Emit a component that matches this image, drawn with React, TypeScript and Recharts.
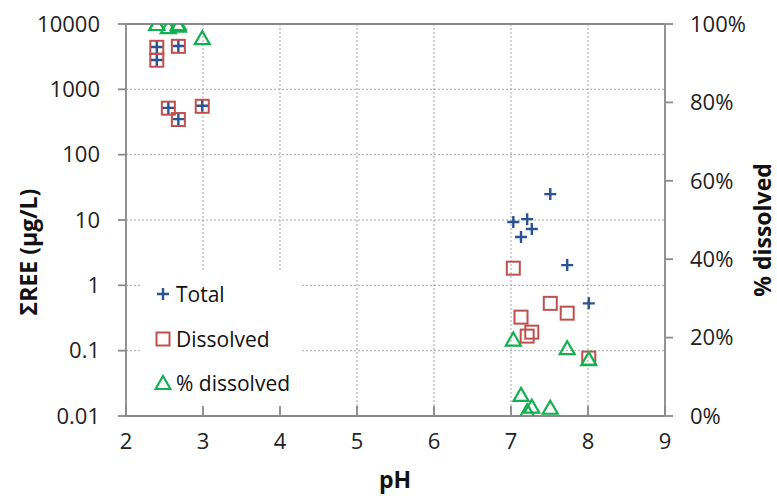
import React from 'react';
import { ScatterChart, Scatter, XAxis, YAxis, CartesianGrid, ReferenceLine } from 'recharts';

const pH = [2.4, 2.4, 2.55, 2.68, 2.68, 2.99, 7.03, 7.13, 7.21, 7.27, 7.51, 7.73, 8.01];
const totalREE = [4440, 2810, 520, 4600, 350, 560, 9.3, 5.5, 10.3, 7.3, 24.9, 2.04, 0.53];
const dissolvedREE = [4400, 2790, 515, 4550, 345, 550, 1.83, 0.326, 0.167, 0.192, 0.53, 0.375, 0.077];
const pctDissolved = [100, 100, 99.2, 100, 99.6, 96.4, 19.5, 5.4, 1.2, 2.4, 2.1, 17.3, 14.5];

const xTicks = [2, 3, 4, 5, 6, 7, 8, 9];
const leftTicks = [0.01, 0.1, 1, 10, 100, 1000, 10000];
const rightTicks = [0, 20, 40, 60, 80, 100];
const seriesNames = ['Total', 'Dissolved', '% dissolved'];

const totalData = pH.map((x, i) => ({ x, y: totalREE[i] }));
const dissolvedData = pH.map((x, i) => ({ x, y: dissolvedREE[i] }));
const pctData = pH.map((x, i) => ({ x, y: pctDissolved[i] }));

const BLUE = '#2B5391';
const RED = '#C0504D';
const GREEN = '#12B050';
const AXIS = '#8A8A8A';
const FONT = '"Open Sans", sans-serif';

const Plus = (p: any) => {
  const { cx, cy } = p;
  return (
    <path d={`M${cx - 6},${cy}H${cx + 6}M${cx},${cy - 6}V${cy + 6}`} stroke={BLUE} strokeWidth={2.4} fill="none" />
  );
};
const Square = (p: any) => {
  const { cx, cy } = p;
  return <rect x={cx - 6.5} y={cy - 6.5} width={13} height={13} stroke={RED} strokeWidth={2} fill="none" />;
};
const Tri = (p: any) => {
  const { cx, cy } = p;
  return (
    <path d={`M${cx},${cy - 7}L${cx + 7.5},${cy + 6}L${cx - 7.5},${cy + 6}Z`} stroke={GREEN} strokeWidth={2.2} fill="none" />
  );
};

const LegendBox = () => {
  const icons = [
    <path d="M3,9H15M9,3V15" stroke={BLUE} strokeWidth={2.4} fill="none" />,
    <rect x={2.5} y={2.5} width={13} height={13} stroke={RED} strokeWidth={2} fill="none" />,
    <path d="M9,2L16.5,15L1.5,15Z" stroke={GREEN} strokeWidth={2.2} fill="none" />,
  ];
  return (
    <div
      style={{
        position: 'absolute',
        left: 142,
        top: 272,
        background: '#fff',
        width: 158,
        height: 134,
        boxSizing: 'border-box',
      }}
    >
      {seriesNames.map((n, i) => (
        <div key={n} style={{ display: 'flex', alignItems: 'center', height: 44.5, paddingLeft: 12 }}>
          <svg width={18} height={18} style={{ marginRight: 4 }}>{icons[i]}</svg>
          <span style={{ fontFamily: FONT, fontSize: 21, color: '#111' }}>{n}</span>
        </div>
      ))}
    </div>
  );
};

const TITLE = { fontFamily: FONT, fontSize: 23, fontWeight: 700, fill: '#111' };

export default function App() {
  return (
    <div style={{ position: 'fixed', left: 0, top: 0, width: 777, height: 500, background: '#fff' }}>
      <ScatterChart width={777} height={500} margin={{ top: 24, right: 0, bottom: 0, left: 0 }}>
        <CartesianGrid stroke="#A5A5A5" strokeDasharray="2 2" strokeWidth={1} />
        <ReferenceLine y={10000} stroke={AXIS} strokeWidth={1.8} />
        <XAxis
          type="number"
          dataKey="x"
          domain={[2, 9]}
          ticks={xTicks}
          height={84}
          allowDataOverflow
          stroke={AXIS}
          strokeWidth={1.8}
          tickSize={-10}
          tickMargin={27}
          tick={{ fill: '#222', fontSize: 22, fontFamily: FONT }}
          label={{
            content: () => (
              <text x={395} y={479} textAnchor="middle" dominantBaseline="central" style={TITLE}>
                pH
              </text>
            ),
          }}
        />
        <YAxis
          yAxisId={0}
          type="number"
          dataKey="y"
          scale="log"
          domain={[0.01, 10000]}
          ticks={leftTicks}
          allowDataOverflow
          width={126}
          stroke={AXIS}
          strokeWidth={1.8}
          tickSize={8}
          tickMargin={18}
          tickFormatter={(v: number) => String(v)}
          tick={{ fill: '#222', fontSize: 22, fontFamily: FONT }}
          label={{
            content: () => (
              <text
                x={28}
                y={252}
                transform="rotate(-90 28 252)"
                textAnchor="middle"
                dominantBaseline="central"
                style={TITLE}
              >
                ΣREE (µg/L)
              </text>
            ),
          }}
        />
        <YAxis
          yAxisId="right"
          orientation="right"
          type="number"
          dataKey="y"
          domain={[0, 100]}
          ticks={rightTicks}
          allowDataOverflow
          width={112}
          stroke={AXIS}
          strokeWidth={1.8}
          tickSize={8}
          tickMargin={17}
          tickFormatter={(v: number) => `${v}%`}
          tick={{ fill: '#222', fontSize: 22, fontFamily: FONT, textAnchor: 'start' }}
          label={{
            content: () => (
              <text
                x={762}
                y={230}
                transform="rotate(-90 762 230)"
                textAnchor="middle"
                dominantBaseline="central"
                style={TITLE}
              >
                % dissolved
              </text>
            ),
          }}
        />
        <Scatter name={seriesNames[0]} data={totalData} yAxisId={0} shape={Plus} isAnimationActive={false} />
        <Scatter name={seriesNames[1]} data={dissolvedData} yAxisId={0} shape={Square} isAnimationActive={false} />
        <Scatter name={seriesNames[2]} data={pctData} yAxisId="right" shape={Tri} isAnimationActive={false} />
      </ScatterChart>
      <LegendBox />
    </div>
  );
}
